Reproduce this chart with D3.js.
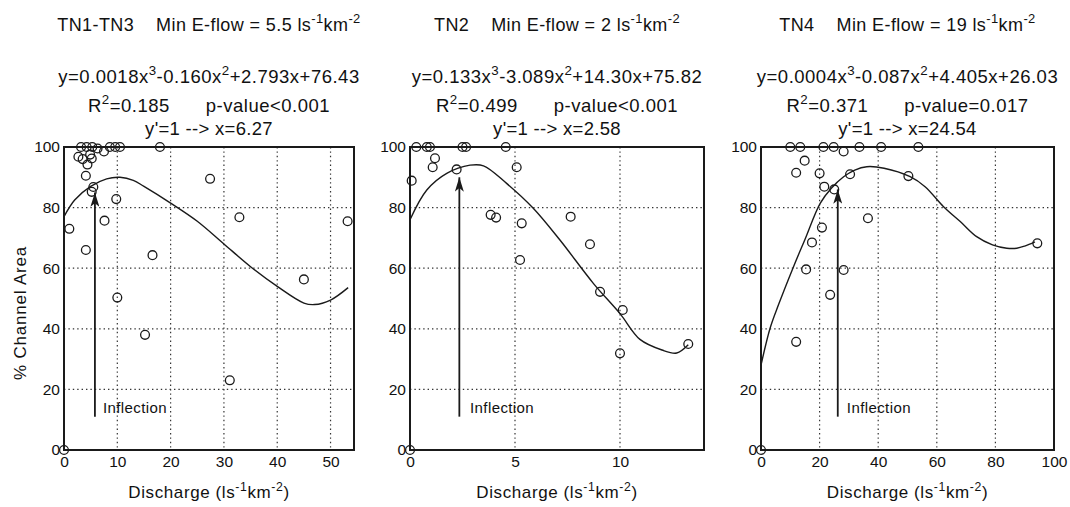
<!DOCTYPE html>
<html>
<head>
<meta charset="utf-8">
<script src="https://d3js.org/d3.v7.min.js"></script>
<style>
  body { margin: 0; background: #fff; }
  text { font-family: "Liberation Sans", Arial, sans-serif; fill: #111; }
</style>
</head>
<body>
<div id="svg_area"></div>
<script>
// values (x = discharge, y = % channel area)
var tn13_x = [0, 1.0, 3.2, 4.25, 5.3, 6.3, 7.5, 8.6, 9.6, 10.5, 18, 2.7, 4.9, 5.2, 3.5, 4.4, 4.1, 5.5, 5.2, 9.8, 7.6, 4.1, 16.6, 10.0, 15.2, 31.1, 27.4, 32.9, 53.2, 45];
var tn13_y = [0, 73, 100, 100, 100, 99.5, 98.5, 100, 100, 100, 100, 96.8, 97.5, 96.2, 96, 94.2, 90.5, 86.8, 85.2, 82.8, 75.7, 66, 64.3, 50.3, 38, 23, 89.5, 76.8, 75.5, 56.3];
var tn13_fit_x = [0, 2, 5, 8, 10.5, 13, 15, 20, 25, 30, 35, 40, 45, 47, 50, 53.3];
var tn13_fit_y = [77, 82.5, 87, 89.5, 90, 89, 87, 81.5, 75.5, 68, 60.5, 54, 48.5, 48, 49.5, 53.6];

var tn2_x = [0, 0.08, 0.3, 0.8, 0.95, 2.5, 2.67, 4.56, 1.19, 1.08, 2.22, 5.08, 3.84, 4.1, 5.32, 5.24, 7.65, 8.57, 9.05, 10.13, 10.0, 13.25];
var tn2_y = [0, 88.9, 100, 100, 100, 100, 100, 100, 96.3, 93.3, 92.6, 93.3, 77.6, 76.7, 74.8, 62.7, 77, 67.9, 52.2, 46.2, 31.9, 35];
var tn2_fit_x = [0, 0.8, 1.75, 2.86, 3.5, 4.6, 5.87, 7.14, 8.73, 10, 10.95, 12, 12.7, 13.25];
var tn2_fit_y = [76, 85.8, 91.3, 94, 93.8, 88, 79.8, 69.3, 55, 45, 36.5, 33, 32, 34.7];

var tn4_x = [0, 10.0, 13.4, 21.3, 24.8, 28.2, 33.6, 41, 53.7, 14.9, 12.0, 20.0, 30.4, 50.3, 21.6, 25, 36.5, 20.8, 17.4, 15.4, 28.2, 23.6, 94.3, 12.0];
var tn4_y = [0, 100, 100, 100, 100, 98.5, 100, 100, 100, 95.5, 91.5, 91.3, 91, 90.4, 86.9, 86, 76.5, 73.4, 68.5, 59.6, 59.4, 51.2, 68.2, 35.7];
var tn4_fit_x = [0, 3.2, 6, 11.1, 15, 20.2, 24, 28.2, 32, 36.1, 42, 50.9, 56, 62.3, 68, 73.6, 79, 83.9, 87.3, 90, 93.5];
var tn4_fit_y = [28, 40.5, 48, 60.5, 69.5, 81.4, 86.4, 90.2, 92.4, 93.5, 93, 90.2, 86.9, 80.3, 75.4, 70.4, 67.7, 66.6, 66.6, 67.3, 68.7];

var y_ticks = [0, 20, 40, 60, 80, 100];
var x_ticks = [[0, 10, 20, 30, 40, 50], [0, 5, 10], [0, 20, 40, 60, 80, 100]];
var x_max = [54.4, 14, 100];

var names = ["TN1-TN3", "TN2", "TN4"];
var eflow = ["5.5", "2", "19"];
var coef = [["0.0018", "0.160", "2.793", "76.43"], ["0.133", "3.089", "14.30", "75.82"], ["0.0004", "0.087", "4.405", "26.03"]];
var r2 = ["0.185", "0.499", "0.371"];
var pval = ["p-value<0.001", "p-value<0.001", "p-value=0.017"];
var inflection = ["6.27", "2.58", "24.54"];
// arrow position and label spot, in data units
var arrow_x = [5.8, 2.35, 26.2];
var arrow_top = [85, 90, 86];
var arrow_bottom = 11;
var label_x = [7.3, 2.86, 29.3];
var label_y = 14;

var panels = [
  { x: tn13_x, y: tn13_y, fx: tn13_fit_x, fy: tn13_fit_y, left: 64, right: 354 },
  { x: tn2_x, y: tn2_y, fx: tn2_fit_x, fy: tn2_fit_y, left: 410, right: 704 },
  { x: tn4_x, y: tn4_y, fx: tn4_fit_x, fy: tn4_fit_y, left: 761, right: 1054 }
];

var svg = d3.select('#svg_area').append("svg").attr("width", 1070).attr("height", 507);
var top_y = 147, bottom_y = 450;
var ink = "#1a1a1a";

svg.append("defs").append("marker")
   .attr("id", "head")
   .attr("viewBox", "0 0 16 10")
   .attr("refX", 16).attr("refY", 5)
   .attr("markerWidth", 15).attr("markerHeight", 9)
   .attr("markerUnits", "userSpaceOnUse")
   .attr("orient", "auto")
   .append("path")
   .attr("d", "M0,0 L16,5 L0,10 L4,5 Z")
   .attr("fill", ink);

// writes a line of text made of parts, some of them superscript
var writeParts = function(sel, parts, size) {
  var shift = size * 0.42;
  var back = 0;
  parts.forEach(function(p) {
    var t = sel.append("tspan").text(p.t);
    var dy = back;
    if (p.dx) t.attr("dx", p.dx);
    if (p.sup) {
      t.attr("font-size", size * 0.72);
      dy -= shift;
      back = shift;
    } else {
      back = 0;
    }
    if (dy) t.attr("dy", dy);
  });
};

panels.forEach(function(pan, i) {
  var scaleX = d3.scaleLinear().domain([0, x_max[i]]).range([pan.left, pan.right]);
  var scaleY = d3.scaleLinear().domain([0, 100]).range([bottom_y, top_y]);
  var g = svg.append("g");
  var cx = (pan.left + pan.right) / 2;

  // headings above each panel
  var title = g.append("text").attr("x", cx).attr("y", 31).attr("text-anchor", "middle")
               .attr("font-size", 18).attr("letter-spacing", 0.4);
  writeParts(title, [{t: names[i]}, {t: "Min E-flow = " + eflow[i] + " ls", dx: 22}, {t: "-1", sup: true}, {t: "km"}, {t: "-2", sup: true}], 18);

  var eq = g.append("text").attr("x", cx).attr("y", 83).attr("text-anchor", "middle")
            .attr("font-size", 18.5).attr("letter-spacing", 0.5);
  writeParts(eq, [{t: "y=" + coef[i][0] + "x"}, {t: "3", sup: true}, {t: "-" + coef[i][1] + "x"}, {t: "2", sup: true}, {t: "+" + coef[i][2] + "x+" + coef[i][3]}], 18.5);

  var rl = g.append("text").attr("x", cx).attr("y", 111.5).attr("text-anchor", "middle")
            .attr("font-size", 18.5).attr("letter-spacing", 0.5);
  writeParts(rl, [{t: "R"}, {t: "2", sup: true}, {t: "=" + r2[i]}, {t: pval[i], dx: 36}], 18.5);

  g.append("text").attr("x", cx).attr("y", 135).attr("text-anchor", "middle")
   .attr("font-size", 18.5).attr("letter-spacing", 0.3)
   .text("y'=1 --> x=" + inflection[i]);

  // dotted grid
  g.selectAll(".gx").data(x_ticks[i].filter(function(d) { return d > 0; })).enter()
   .append("line")
   .attr("x1", scaleX).attr("x2", scaleX)
   .attr("y1", top_y).attr("y2", bottom_y)
   .attr("stroke", "#333").attr("stroke-width", 1.2).attr("stroke-dasharray", "1.4,3");
  g.selectAll(".gy").data(y_ticks.filter(function(d) { return d > 0 && d < 100; })).enter()
   .append("line")
   .attr("x1", pan.left).attr("x2", pan.right)
   .attr("y1", scaleY).attr("y2", scaleY)
   .attr("stroke", "#333").attr("stroke-width", 1.2).attr("stroke-dasharray", "1.4,3");

  // axes
  var ax = g.append("g").attr("transform", "translate(0," + bottom_y + ")")
            .call(d3.axisBottom(scaleX).tickValues(x_ticks[i]).tickSize(0).tickPadding(6));
  var ay = g.append("g").attr("transform", "translate(" + pan.left + ",0)")
            .call(d3.axisLeft(scaleY).tickValues(y_ticks).tickSize(0).tickPadding(4));
  [ax, ay].forEach(function(a) {
    a.select(".domain").remove();
    a.selectAll("text").attr("font-size", 15.5).attr("font-family", "Liberation Sans, Arial, sans-serif").attr("fill", "#111");
  });

  g.append("rect")
   .attr("x", pan.left).attr("y", top_y)
   .attr("width", pan.right - pan.left).attr("height", bottom_y - top_y)
   .attr("fill", "none").attr("stroke", ink).attr("stroke-width", 2);

  // fitted cubic
  var fitLine = d3.line()
      .x(function(d, k) { return scaleX(pan.fx[k]); })
      .y(function(d, k) { return scaleY(pan.fy[k]); })
      .curve(d3.curveCatmullRom);
  g.append("path")
   .datum(pan.fx)
   .attr("fill", "none").attr("stroke", ink).attr("stroke-width", 1.4)
   .attr("d", fitLine);

  g.selectAll(".pt").data(pan.x).enter()
   .append("circle")
   .attr("cx", function(d) { return scaleX(d); })
   .attr("cy", function(d, k) { return scaleY(pan.y[k]); })
   .attr("r", 4.4)
   .attr("fill", "none").attr("stroke", ink).attr("stroke-width", 1.3);

  // inflection arrow
  g.append("line")
   .attr("x1", scaleX(arrow_x[i])).attr("x2", scaleX(arrow_x[i]))
   .attr("y1", scaleY(arrow_bottom)).attr("y2", scaleY(arrow_top[i]))
   .attr("stroke", ink).attr("stroke-width", 1.8)
   .attr("marker-end", "url(#head)");
  g.append("text")
   .attr("x", scaleX(label_x[i])).attr("y", scaleY(label_y)).attr("dy", "0.35em")
   .attr("font-size", 15).attr("letter-spacing", 0.4)
   .text("Inflection");

  var xl = g.append("text").attr("x", cx).attr("y", 498).attr("text-anchor", "middle")
            .attr("font-size", 17).attr("letter-spacing", 0.6);
  writeParts(xl, [{t: "Discharge (ls"}, {t: "-1", sup: true}, {t: "km"}, {t: "-2", sup: true}, {t: ")"}], 17);
});

svg.append("text")
   .attr("transform", "translate(26,313) rotate(-90)")
   .attr("text-anchor", "middle")
   .attr("font-size", 17).attr("letter-spacing", 0.8)
   .text("% Channel Area");
</script>
</body>
</html>
